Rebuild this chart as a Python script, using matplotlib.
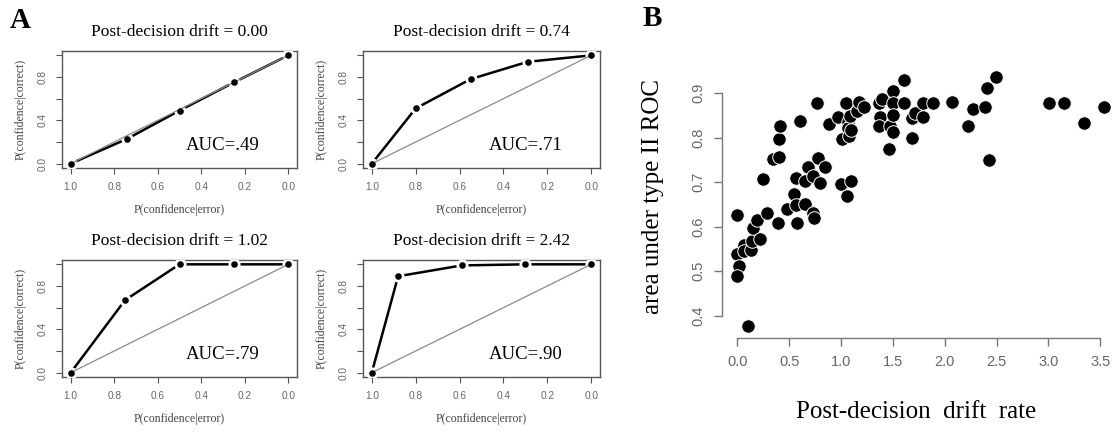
import matplotlib.pyplot as plt

W, H = 1116, 432

# ---- panel A: type II ROC curves ----
drifts = ['0.00', '0.74', '1.02', '2.42']
aucs = ['.49', '.71', '.79', '.90']
roc_fa = [
    [1.0, 0.74, 0.50, 0.25, 0.0],
    [1.0, 0.80, 0.55, 0.29, 0.0],
    [1.0, 0.75, 0.50, 0.25, 0.0],
    [1.0, 0.88, 0.59, 0.30, 0.0],
]
roc_hit = [
    [0.0, 0.23, 0.49, 0.75, 1.0],
    [0.0, 0.51, 0.78, 0.94, 1.0],
    [0.0, 0.67, 1.0, 1.0, 1.0],
    [0.0, 0.89, 0.99, 1.0, 1.0],
]

# ---- panel B: AUC vs post-decision drift ----
drift_rate = [0.00, 0.00, 0.02, 0.00, 0.10, 0.06, 0.06, 0.13, 0.14, 0.15,
              0.19, 0.22, 0.25, 0.29, 0.34, 0.39, 0.40, 0.40, 0.41, 0.48,
              0.55, 0.57, 0.57, 0.58, 0.60, 0.65, 0.65, 0.68, 0.73, 0.73,
              0.74, 0.77, 0.78, 0.80, 0.85, 0.88, 0.97, 1.00, 1.01, 1.05,
              1.06, 1.07, 1.07, 1.08, 1.10, 1.10, 1.09, 1.15, 1.17, 1.22,
              1.37, 1.38, 1.37, 1.40, 1.47, 1.46, 1.50, 1.50, 1.50, 1.50,
              1.61, 1.61, 1.68, 1.71, 1.68, 1.79, 1.79, 1.89, 2.07, 2.22,
              2.27, 2.39, 2.41, 2.43, 2.49, 3.01, 3.15, 3.34, 3.54]
auc_roc = [0.627, 0.539, 0.511, 0.490, 0.376, 0.559, 0.546, 0.548, 0.567, 0.597,
           0.616, 0.572, 0.708, 0.630, 0.752, 0.608, 0.756, 0.797, 0.826, 0.639,
           0.674, 0.649, 0.709, 0.608, 0.838, 0.652, 0.703, 0.735, 0.714, 0.632,
           0.619, 0.879, 0.754, 0.699, 0.735, 0.830, 0.847, 0.696, 0.797, 0.879,
           0.670, 0.836, 0.823, 0.804, 0.818, 0.703, 0.848, 0.860, 0.881, 0.870,
           0.879, 0.847, 0.827, 0.887, 0.827, 0.775, 0.906, 0.879, 0.851, 0.814,
           0.931, 0.879, 0.844, 0.856, 0.799, 0.879, 0.847, 0.879, 0.881, 0.827,
           0.864, 0.870, 0.911, 0.750, 0.937, 0.879, 0.879, 0.834, 0.870]

serif = 'Liberation Serif'
sans = 'Liberation Sans'
tick_col = '#666666'


def px_axes(fig, left, top, right, bottom):
    return fig.add_axes([left / W, 1 - bottom / H, (right - left) / W, (bottom - top) / H])


fig = plt.figure(figsize=(W / 100, H / 100), dpi=100)

boxes = [(62, 51, 297, 168), (363, 51, 600, 168),
         (62, 260, 297, 377), (363, 260, 600, 377)]

for i, (l, t, r, b) in enumerate(boxes):
    ax = px_axes(fig, l, t, r, b)
    ax.plot(roc_fa[i], roc_hit[i], color='black', lw=1.8, zorder=2)
    ax.scatter(roc_fa[i], roc_hit[i], s=60, color='white', zorder=3)
    ax.plot([1, 0], [0, 1], color='#8a8a8a', lw=0.9, zorder=4)
    ax.scatter(roc_fa[i], roc_hit[i], s=14, color='black', zorder=5)
    ax.set_xlim(1.04, -0.04)
    ax.set_ylim(-0.04, 1.04)
    ax.set_xticks([1.0, 0.8, 0.6, 0.4, 0.2, 0.0])
    ax.set_xticklabels(['1.0', '0.8', '0.6', '0.4', '0.2', '0.0'])
    ax.set_yticks([0.0, 0.2, 0.4, 0.6, 0.8, 1.0])
    ax.set_yticklabels(['0.0', '', '0.4', '', '0.8', ''], rotation=90, va='center')
    ax.tick_params(labelsize=7.3, labelcolor=tick_col, color='#555555', length=4, width=0.8, pad=6)
    for lab in ax.get_xticklabels() + ax.get_yticklabels():
        lab.set_family(sans)
    for sp in ax.spines.values():
        sp.set_color('#555555')
        sp.set_linewidth(1.0)
    ax.set_title('Post-decision drift = ' + drifts[i], family=serif, fontsize=12.5, pad=11)
    ax.set_xlabel('P(confidence|error)', family=serif, fontsize=8.5, color='#444444', labelpad=9)
    ax.set_ylabel('P(confidence|correct)', family=serif, fontsize=8.5, color='#444444', labelpad=8)
    ax.text(0.13, 0.17, 'AUC=' + aucs[i], family=serif, fontsize=13.5, ha='right', va='center')

fig.text(20 / W, 1 - 21 / H, 'A', family=serif, fontsize=21, weight='bold', ha='center', va='center')
fig.text(652 / W, 1 - 19 / H, 'B', family=serif, fontsize=21, weight='bold', ha='center', va='center')

# panel B
axb = px_axes(fig, 722, 55, 1110, 338)
axb.scatter(drift_rate, auc_roc, s=95, color='black', edgecolor='white', linewidth=0.7, zorder=3)
x0 = (722 - 737.3) / 103.7
x1 = (1110 - 737.3) / 103.7
y0 = 0.9 - (338 - 93.3) / 445
y1 = 0.9 + (93.3 - 55) / 445
axb.set_xlim(x0, x1)
axb.set_ylim(y0, y1)
axb.spines['top'].set_visible(False)
axb.spines['right'].set_visible(False)
axb.spines['left'].set_bounds(0.4, 0.9)
axb.spines['bottom'].set_bounds(0.0, 3.5)
for sp in ('left', 'bottom'):
    axb.spines[sp].set_color('#777777')
    axb.spines[sp].set_linewidth(1.0)
axb.set_xticks([0.0, 0.5, 1.0, 1.5, 2.0, 2.5, 3.0, 3.5])
axb.set_xticklabels(['0.0', '0.5', '1.0', '1.5', '2.0', '2.5', '3.0', '3.5'])
axb.set_yticks([0.4, 0.5, 0.6, 0.7, 0.8, 0.9])
axb.set_yticklabels(['0.4', '0.5', '0.6', '0.7', '0.8', '0.9'], rotation=90, va='center')
axb.tick_params(labelsize=10.5, labelcolor=tick_col, color='#777777', length=6, width=1.0, pad=6)
for lab in axb.get_xticklabels() + axb.get_yticklabels():
    lab.set_family(sans)
axb.set_xlabel('Post-decision  drift  rate', family=serif, fontsize=18, labelpad=23)
axb.set_ylabel('area under type II ROC', family=serif, fontsize=18, labelpad=20)

fig.savefig('out.png', dpi=100)
